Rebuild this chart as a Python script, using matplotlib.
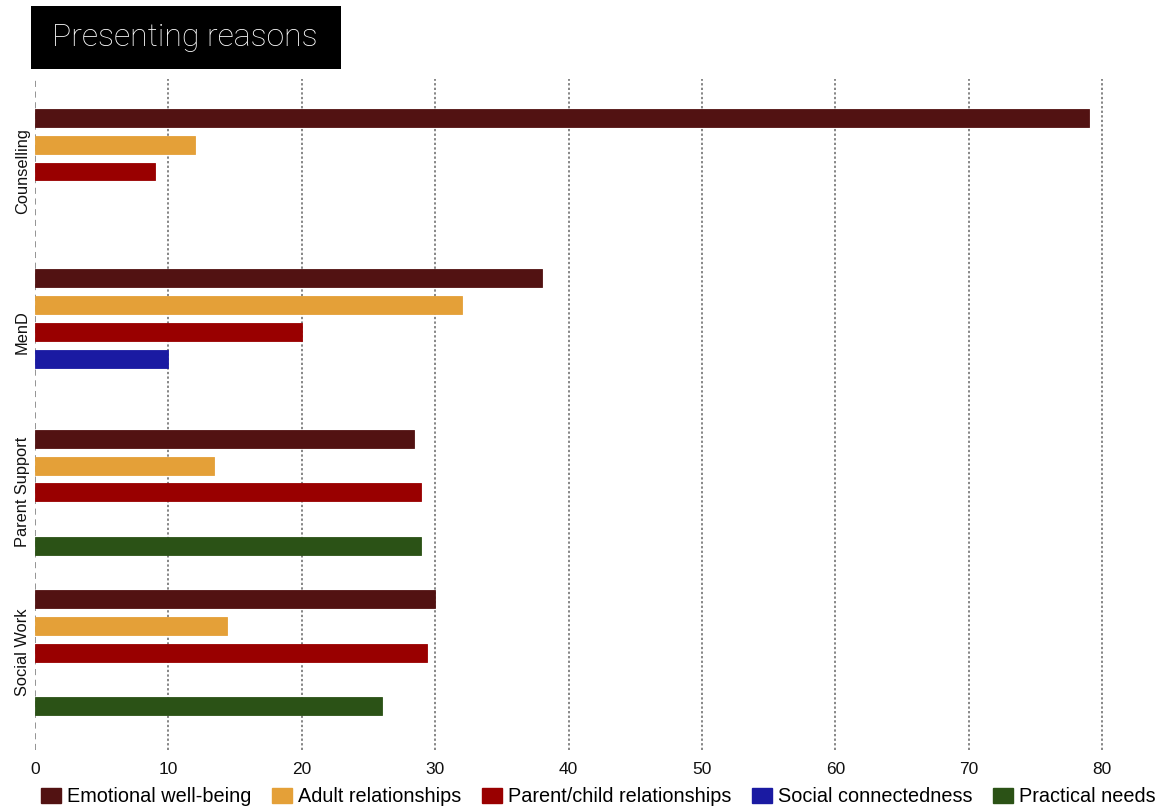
import numpy as np
import matplotlib
matplotlib.use("Agg")
import matplotlib.pyplot as plt
from matplotlib.patches import Rectangle, Patch
from matplotlib import font_manager

categories = ["Counselling", "MenD", "Parent Support", "Social Work"]
series_names = ["Emotional well-being", "Adult relationships", "Parent/child relationships",
                "Social connectedness", "Practical needs"]
emotional = [79, 38, 28.4, 30]
adult = [12, 32, 13.4, 14.4]
parent_child = [9, 20, 28.9, 29.4]
social = [None, 10, None, None]
practical = [None, None, 28.9, 26]
series_values = [emotional, adult, parent_child, social, practical]
colors = ["#521212", "#E4A038", "#990000", "#1A1AA2", "#2B5216"]
xticks = [0, 10, 20, 30, 40, 50, 60, 70, 80]

def pick(fams):
    avail = {f.name for f in font_manager.fontManager.ttflist}
    for f in fams:
        if f in avail:
            return f
    return "DejaVu Sans"

sans = pick(["Liberation Sans", "DejaVu Sans"])
light = pick(["Roboto", "Open Sans", "Lato", "Liberation Sans"])

W, H = 1161, 807
fig = plt.figure(figsize=(W / 100, H / 100), dpi=100)
ax = fig.add_axes([35 / W, 1 - 750 / H, (1115 - 35) / W, (750 - 79) / H])

slots_per_group = 6
bar_h = 0.67
for j, (vals, col) in enumerate(zip(series_values, colors)):
    for i, v in enumerate(vals):
        if v is None:
            continue
        ax.barh(i * slots_per_group + j, v, height=bar_h, color=col,
                edgecolor=col, linewidth=0.6, zorder=3)

ax.set_ylim(23.64, -1.46)
ax.set_xlim(0, 80.96)
ax.set_yticks([i * slots_per_group + 2 for i in range(len(categories))])
ax.set_yticklabels(categories, rotation=90, va="center", ha="center",
                   fontsize=11.8, family=sans, color="#111111")
ax.tick_params(axis="y", length=0, pad=9)
ax.set_xticks(xticks)
ax.set_xticklabels([str(t) for t in xticks], fontsize=12.5, family=sans, color="#111111")
ax.tick_params(axis="x", length=0, pad=9)
for s in ax.spines.values():
    s.set_visible(False)
ax.xaxis.grid(True, linestyle=(0, (1.5, 1.5)), color="#666666", linewidth=1.1, zorder=0)
ax.yaxis.grid(False)
gl = ax.get_xgridlines()
gl[0].set_linestyle((0, (4, 3)))
gl[0].set_color("#777777")
ax.set_axisbelow(True)

# Title box
fig.patches.append(Rectangle((31 / W, 1 - 69 / H), (341 - 31) / W, (69 - 6) / H,
                             transform=fig.transFigure, facecolor="black",
                             edgecolor="none", zorder=0))
fig.text(52 / W, 1 - 38 / H, "Presenting reasons", color="white", fontsize=23,
         family=light, fontweight="light", ha="left", va="center")

handles = [Patch(facecolor=c, edgecolor=c) for c in colors]
fig.legend(handles, series_names, loc="center left", bbox_to_anchor=(41 / W, 1 - 796.5 / H),
           ncol=5, frameon=False, handlelength=1.0, handleheight=0.78,
           handletextpad=0.3, columnspacing=1.05, borderaxespad=0, borderpad=0,
           prop={"family": sans, "size": 14.3})

fig.savefig("out.png", dpi=100)
